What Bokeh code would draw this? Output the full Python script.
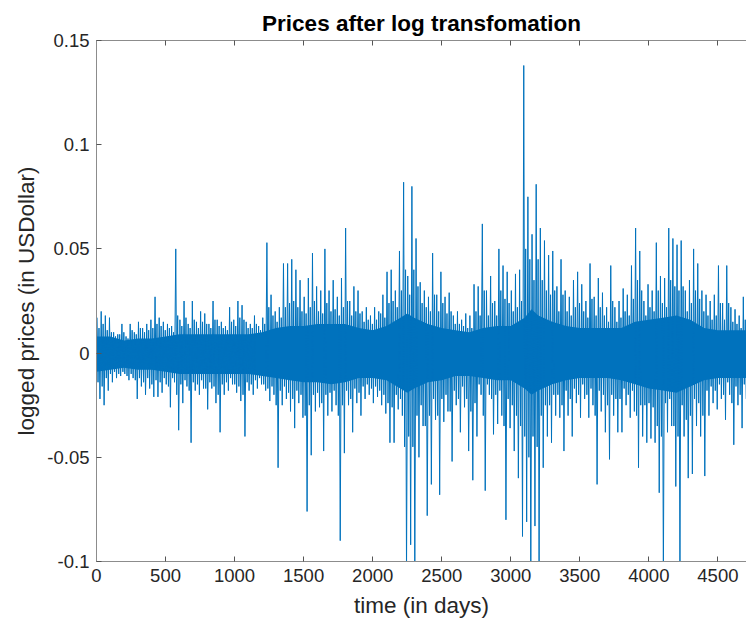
import numpy as np
from bokeh.plotting import figure
from bokeh.models import LinearAxis, FixedTicker, Range1d
from bokeh.embed import file_html
from bokeh.resources import INLINE

# ---------------- data ----------------
TITLE = "Prices after log transfomation"
X_LABEL = "time (in days)"
Y_LABEL = "logged prices (in USDollar)"

x_ticks = [0, 500, 1000, 1500, 2000, 2500, 3000, 3500, 4000, 4500]
y_ticks = [-0.1, -0.05, 0, 0.05, 0.1, 0.15]
y_tick_labels = ["-0.1", "-0.05", "0", "0.05", "0.1", "0.15"]

# per 30-day block: highest and lowest logged price seen in that block (x 1e-3)
block_len = 30
peak_hi = [17, 20, 18, 17, 10, 9, 14, 8, 14, 10,
           15, 12, 14, 16, 27, 17, 15, 14, 13, 50,
           16, 25, 14, 25, 15, 20, 19, 14, 25, 16,
           15, 13, 22, 16, 25, 23, 15, 14, 18, 13,
           17, 53, 28, 20, 22, 43, 43, 45, 40, 35,
           27, 36, 48, 32, 30, 50, 30, 35, 27, 36,
           60, 25, 32, 30, 20, 22, 18, 22, 20, 28,
           39, 40, 30, 49, 82, 37, 80, 55, 34, 30,
           27, 48, 28, 39, 27, 29, 18, 20, 16, 19,
           18, 33, 32, 62, 30, 37, 25, 50, 42, 39,
           30, 38, 40, 138, 75, 57, 81, 60, 54, 47,
           49, 32, 45, 30, 27, 35, 39, 33, 25, 43,
           27, 36, 29, 22, 42, 22, 25, 31, 28, 42,
           60, 49, 25, 33, 30, 53, 37, 36, 60, 55,
           52, 54, 30, 35, 50, 43, 30, 28, 25, 28,
           42, 24, 42, 22, 21, 18, 27]
peak_lo = [-22, -25, -18, -14, -12, -11, -10, -13, -12, -22,
           -16, -20, -17, -21, -21, -19, -15, -26, -14, -37,
           -24, -16, -43, -18, -20, -17, -27, -17, -24, -38,
           -20, -18, -15, -19, -23, -40, -18, -20, -17, -15,
           -18, -23, -20, -55, -25, -22, -28, -36, -24, -31,
           -76, -49, -28, -26, -47, -30, -28, -25, -90, -48,
           -25, -38, -24, -30, -22, -20, -24, -21, -25, -29,
           -43, -43, -27, -30, -105, -92, -108, -50, -35, -78,
           -63, -32, -68, -33, -28, -52, -25, -38, -26, -47,
           -61, -40, -20, -66, -20, -39, -34, -30, -80, -36,
           -47, -60, -88, -81, -110, -83, -105, -55, -40, -43,
           -30, -31, -47, -30, -40, -24, -31, -22, -31, -25,
           -63, -28, -38, -51, -30, -38, -38, -25, -31, -28,
           -55, -40, -43, -41, -43, -67, -108, -38, -35, -64,
           -105, -40, -60, -58, -35, -40, -59, -30, -24, -27,
           -22, -32, -20, -44, -25, -36, -22]

# per 30-day block: typical (second-level) high and low, edge of the dense band (x 1e-3)
mid_hi = [12, 14, 11, 10, 8, 9, 10, 7, 11, 9, 12, 10, 11, 12, 14, 13, 11,
          12, 10, 18, 13, 17, 12, 16, 12, 15, 14, 12, 16, 13, 12, 11, 15, 13, 17, 16, 12, 12, 14, 11,
          14, 22, 18, 15, 17, 22, 24, 25, 22, 20,
          19, 22, 25, 20, 19, 24, 20, 21, 18, 22, 25, 18, 20, 19, 15, 16, 14,
          16, 19, 17, 24, 25, 22,
          30, 40, 28, 40, 32, 24,
          22, 20, 28, 20, 24, 19, 20, 14,
          14, 13, 12, 12, 20, 18, 30, 18,
          24, 18, 30, 26, 24, 20, 22, 25,
          50, 45, 35, 45, 35, 30,
          28, 30, 20, 28, 20, 18, 22, 24, 20, 17, 26, 18, 22,
          18, 15, 25, 15, 17, 20, 18, 26,
          35, 30, 18, 22, 20, 30, 24, 22, 35, 32, 30, 32, 20, 24, 30, 26, 20,
          18, 16, 18, 24, 16, 24, 15, 14, 12, 16]
mid_lo = [-14, -16, -12, -10, -9, -10, -9, -11, -10, -13, -12, -14, -12, -15, -13, -14, -12,
          -16, -12, -20, -15, -13, -18, -14, -15, -13, -17, -14, -16, -20, -15, -14, -12, -15, -16, -20, -14, -15, -13, -12,
          -15, -17, -16, -25, -18, -16, -19, -22, -18, -20,
          -30, -25, -20, -19, -24, -20, -19, -18, -30, -25, -18, -22, -17, -19, -16, -15, -17,
          -16, -18, -20, -24, -26, -20,
          -22, -45, -40, -45, -30, -25,
          -35, -30, -22, -30, -22, -20, -28, -18,
          -22, -16, -22, -28, -24, -15, -30, -15,
          -22, -20, -18, -35, -22, -25, -30, -35,
          -40, -50, -40, -45, -30, -25,
          -25, -20, -20, -25, -18, -22, -17, -20, -15, -20, -17, -30, -18,
          -20, -25, -20, -22, -22, -17, -20, -18,
          -30, -25, -25, -24, -26, -35, -40, -24, -22, -35, -40, -25, -32, -30, -22, -24, -30,
          -18, -16, -18, -15, -20, -14, -24, -16, -20, -15]

# dense core of the trace (upper / lower edge, x 1e-3)
core_days = [0, 100, 200, 300, 400, 500, 600, 700, 800, 900,
             1000, 1100, 1200, 1300, 1400, 1500, 1600, 1700, 1800, 1900,
             2000, 2100, 2200, 2250, 2300, 2400, 2500, 2600, 2700, 2800,
             2900, 3000, 3100, 3150, 3200, 3300, 3400, 3500, 3600, 3700,
             3800, 3900, 4000, 4100, 4200, 4300, 4400, 4500, 4600, 4707]
core_hi = [8, 8, 6, 7, 7, 8, 9, 9, 9, 9,
           9, 9, 10, 12, 13, 13, 14, 14, 14, 12,
           11, 13, 17, 19, 17, 14, 12, 11, 10, 12,
           13, 13, 17, 21, 18, 15, 13, 12, 12, 12,
           12, 15, 16, 17, 18, 16, 12, 11, 11, 11]
core_lo = [-9, -8, -7, -8, -8, -9, -10, -10, -10, -10,
           -10, -10, -11, -12, -13, -14, -14, -15, -14, -12,
           -12, -13, -17, -19, -17, -14, -13, -11, -11, -12,
           -13, -13, -17, -20, -18, -15, -13, -12, -12, -12,
           -13, -15, -17, -18, -19, -16, -13, -12, -12, -12]

# ---------------- build series ----------------
t, v = [], []
for i in range(len(peak_hi)):
    d0 = i * block_len
    t += [d0 + 4, d0 + 11, d0 + 18, d0 + 25]
    v += [peak_hi[i] / 1000.0, mid_lo[i] / 1000.0, mid_hi[i] / 1000.0, peak_lo[i] / 1000.0]
core_hi_v = [c / 1000.0 for c in core_hi]
core_lo_v = [c / 1000.0 for c in core_lo]

BLUE = "#0072BD"
AX = "#8c8c8c"
TXT = "#262626"
FONT = "Liberation Sans"

p = figure(width=746, height=620, output_backend="svg", toolbar_location=None,
           x_range=Range1d(0, 4707), y_range=Range1d(-0.1, 0.15),
           min_border_left=96, min_border_right=0, min_border_top=40, min_border_bottom=10)
p.outline_line_color = None
p.xgrid.visible = False
p.ygrid.visible = False
p.background_fill_color = "white"
p.border_fill_color = "white"

p.varea(x=core_days, y1=core_lo_v, y2=core_hi_v, fill_color=BLUE, fill_alpha=1.0)
p.line(t, v, line_color=BLUE, line_width=1.0)

p.title.text = TITLE
p.title.align = "center"
p.title.text_font = FONT
p.title.text_font_size = "22.5px"
p.title.text_font_style = "bold"
p.title.text_color = "#000000"

xa = p.xaxis[0]
xa.ticker = FixedTicker(ticks=x_ticks)
xa.axis_label = X_LABEL
ya = p.yaxis[0]
ya.ticker = FixedTicker(ticks=y_ticks)
ya.major_label_overrides = {t_: s for t_, s in zip(y_ticks, y_tick_labels)}
ya.axis_label = Y_LABEL

for ax in (xa, ya):
    ax.axis_line_color = AX
    ax.major_tick_line_color = "#555555"
    ax.major_tick_in = 5
    ax.major_tick_out = 0
    ax.minor_tick_line_color = None
    ax.major_label_text_font = FONT
    ax.major_label_text_font_size = "18.5px"
    ax.major_label_text_color = TXT
    ax.axis_label_text_font = FONT
    ax.axis_label_text_font_size = "22.5px"
    ax.axis_label_text_font_style = "normal"
    ax.axis_label_text_color = TXT
    ax.major_label_standoff = 7
xa.axis_label_standoff = 8

top = LinearAxis(ticker=FixedTicker(ticks=x_ticks), axis_line_color=AX,
                 major_tick_line_color="#555555", major_tick_in=5, major_tick_out=0,
                 minor_tick_line_color=None, major_label_text_font_size="1px",
                 major_label_text_color=None, major_label_standoff=0)
p.add_layout(top, "above")

open("out.html", "w").write(file_html(p, INLINE))
